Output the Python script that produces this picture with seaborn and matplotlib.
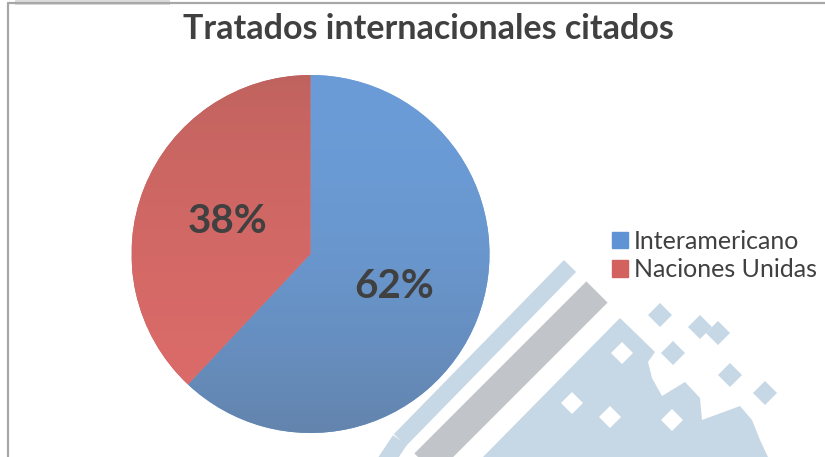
import numpy as np
import pandas as pd
import seaborn as sns
import matplotlib
matplotlib.use("Agg")
import matplotlib.pyplot as plt
from matplotlib.patches import Polygon, Rectangle
from matplotlib.transforms import Affine2D
from matplotlib.colors import to_rgb

# ---- data ----
title = "Tratados internacionales citados"
categories = ["Interamericano", "Naciones Unidas"]
shares = [62, 38]
top_colors = ["#6b9cd7", "#bd625e"]
bottom_colors = ["#6384ad", "#de6c6a"]
legend_colors = ["#5f93d3", "#d3625f"]
gradient_power = [2.0, 0.6]

sns.set_theme(style="white")
plt.rcParams["font.family"] = ["Lato", "DejaVu Sans"]

W, H = 825, 457
fig = plt.figure(figsize=(W / 100, H / 100), dpi=100)
fig.patch.set_facecolor("white")
px = Affine2D().scale(1 / W, -1 / H).translate(0, 1) + fig.transFigure

# ---- decorative watermark (background) ----
wm_blue = "#c6d7e5"
wm_gray = "#c1c4c8"

def band(p1, p2, width, color, z=0.1):
    p1 = np.array(p1, float); p2 = np.array(p2, float)
    d = p2 - p1
    n = np.array([d[1], -d[0]]) / np.hypot(*d) * width / 2
    poly = [p1 + n, p2 + n, p2 - n, p1 - n]
    fig.add_artist(Polygon(poly, closed=True, transform=px, color=color, lw=0, zorder=z))

def diamond(c, r, color, z=0.12):
    x, y = c
    fig.add_artist(Polygon([(x, y - r), (x + r, y), (x, y + r), (x - r, y)], closed=True,
                           transform=px, color=color, lw=0, zorder=z))

band((597, 292), (425, 464), 30, wm_gray)
band((570, 266), (400, 440), 17, wm_blue)
band((400, 440), (380, 470), 17, wm_blue)
fig.add_artist(Polygon([(620, 318), (655, 352), (648, 362), (652, 378), (662, 396),
                        (685, 382), (700, 398), (702, 420), (740, 406), (752, 420),
                        (760, 440), (768, 457), (483, 457)], closed=True,
                       transform=px, color=wm_blue, lw=0, zorder=0.1))
for c in [(622, 353), (572, 403), (610, 417), (672, 420)]:
    diamond(c, 11, "white")
for c in [(660, 315), (700, 327), (718, 333), (673, 353), (730, 375), (765, 393)]:
    diamond(c, 12, wm_blue)

# ---- frame ----
fig.add_artist(Rectangle((15, 0), 155, 5, transform=px, color="#dcdcdc", lw=0, zorder=0.05))
fig.add_artist(plt.Line2D([8, 8], [3, 457], transform=px, color="#a8a8a8", lw=1.6, zorder=5))
fig.add_artist(plt.Line2D([8, 825], [3, 3], transform=px, color="#a8a8a8", lw=1.6, zorder=5))

# ---- pie ----
cx, cy, r = 310.5, 254, 179
ax = fig.add_axes([(cx - r) / W, (H - cy - r) / H, 2 * r / W, 2 * r / H])
ax.patch.set_alpha(0)
wedges, texts, autotexts = ax.pie(
    shares, startangle=90, counterclock=False, colors=top_colors,
    autopct="%1.0f%%", pctdistance=0.5,
    wedgeprops=dict(linewidth=0),
    textprops=dict(fontsize=29, fontweight="bold", color="#404040"))
for w, tc, bc, gp in zip(wedges, top_colors, bottom_colors, gradient_power):
    t = (np.linspace(0, 1, 256) ** gp)[:, None, None]
    grad = (1 - t) * np.array(to_rgb(tc)) + t * np.array(to_rgb(bc))
    im = ax.imshow(grad, extent=(-1, 1, -1, 1), origin="upper", aspect="auto",
                   zorder=1.5, interpolation="bilinear")
    im.set_clip_path(w)
for a in autotexts:
    a.set_zorder(3)
ax.set_xlim(-1, 1)
ax.set_ylim(-1, 1)
ax.set_aspect("auto")
ax.axis("off")

# ---- title ----
fig.text(428 / W, (H - 39) / H, title, ha="center", va="baseline",
         fontsize=24.5, fontweight="bold", color="#404040")

# ---- legend ----
handles = [Rectangle((0, 0), 1, 1, color=c) for c in legend_colors]
fig.legend(handles, categories, loc="center left",
           bbox_to_anchor=(612 / W, (H - 255.5) / H), frameon=False,
           fontsize=18, handlelength=0.62, handleheight=0.62, handletextpad=0.25,
           labelspacing=0.22, borderpad=0, borderaxespad=0, labelcolor="#404040")

fig.savefig("out.png", dpi=100, facecolor="white")
